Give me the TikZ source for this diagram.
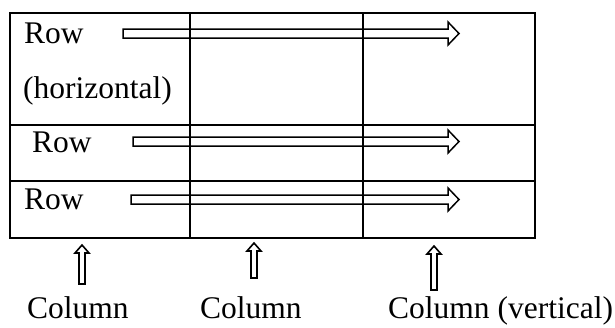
\documentclass[tikz,border=0pt]{standalone}
\usepackage{fontspec}
\setmainfont{Liberation Serif}
\begin{document}
\begin{tikzpicture}[x=1bp,y=-1bp,
  grid/.style={line width=1.7bp},
  label/.style={inner sep=0pt,anchor=base west,font=\fontsize{31.5bp}{36bp}\selectfont},
  hollow/.style={draw=black,fill=white,line width=1.5bp,line join=miter}]
\useasboundingbox (0,0) rectangle (615,327);

% horizontal block arrows across the rows
\foreach \name/\sx/\cy in {ra/123/33.5, rb/133/141.5, rc/131/199.5}{
  \coordinate (\name) at (\sx,\cy);
  \draw[hollow] (\name) ++(0,-4.5) -- (448,\cy-4.5) -- (448,\cy-11.5) -- (459,\cy)
     -- (448,\cy+11.5) -- (448,\cy+4.5) -- (\sx,\cy+4.5) -- cycle;
}

% table grid
\draw[grid] (10,13) rectangle (535,238);
\draw[grid] (190,13) -- (190,238) (363,13) -- (363,238);
\draw[grid] (10,125) -- (535,125) (10,181) -- (535,181);

% row labels
\node[label] (r1) at (24,43) {Row};
\node[label] (r1b) at (23,98) {(horizontal)};
\node[label] (r2) at (32,152) {Row};
\node[label] (r3) at (24,209) {Row};

% upward column arrows
\foreach \name/\cx/\ty/\by in {ca/82/245/284, cb/254/243/278, cc/434/246/290}{
  \coordinate (\name) at (\cx,\ty);
  \draw[hollow,line width=1.6bp] (\name) -- (\cx+7,\ty+8) -- (\cx+3,\ty+8) -- (\cx+3,\by)
     -- (\cx-3,\by) -- (\cx-3,\ty+8) -- (\cx-7,\ty+8) -- cycle;
}

% column labels
\node[label] (c1) at (27,318) {Column};
\node[label] (c2) at (200,318) {Column};
\node[label] (c3) at (388,318) {Column (vertical)};
\end{tikzpicture}
\end{document}
